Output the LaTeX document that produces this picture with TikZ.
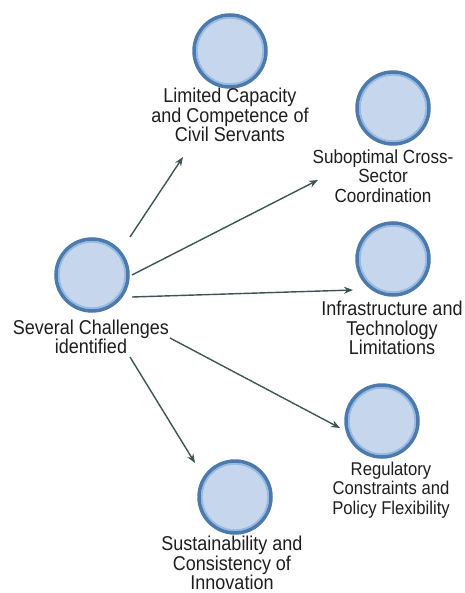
\documentclass[tikz,border=0pt]{standalone}
\usepackage{fontspec}
\setmainfont{Liberation Sans}[FakeStretch=0.9]
\usetikzlibrary{arrows.meta,calc}
\definecolor{nodefill}{RGB}{198,214,236}
\definecolor{nodeedge}{RGB}{76,122,172}
\definecolor{nodeinner}{RGB}{150,186,228}
\definecolor{arrowcol}{RGB}{62,84,84}
\definecolor{txtcol}{RGB}{30,30,30}
\begin{document}
\begin{tikzpicture}[x=1pt,y=-1pt,
  topic/.style={circle,fill=nodefill,draw=nodeedge,line width=3.5pt,minimum size=72pt,inner sep=0pt,
    path picture={\draw[nodeinner,line width=1.8pt] (path picture bounding box.center) circle (33.2pt);}},
  lbl/.style={align=center,text=txtcol,font=\fontsize{20}{19.3}\selectfont,inner sep=0pt},
  lblsmall/.style={lbl,font=\fontsize{18.5}{19.5}\selectfont},
  lblmid/.style={lbl,font=\fontsize{19}{19.3}\selectfont},
  arr/.style={draw=arrowcol,line width=1.4pt,-{Stealth[length=9pt,width=7pt]}}]
\useasboundingbox[fill=white] (0,0) rectangle (464,593);

% circles
\node[topic] (S) at (92,275) {};
\node[topic] (L) at (230,51) {};
\node[topic] (U) at (393,108) {};
\node[topic] (I) at (393,259) {};
\node[topic] (R) at (382,421) {};
\node[topic] (Y) at (235,497) {};

% labels
\node[lbl] (SL) at (91,337) {Several Challenges\\identified};
\node[lbl] (LL) at (230,115) {Limited Capacity\\and Competence of\\Civil Servants};
\node[lblmid] (UL) at (383,176) {Suboptimal Cross-\\Sector\\Coordination};
\node[lbl] (IL) at (392,328) {Infrastructure and\\Technology\\Limitations};
\node[lblsmall] (RL) at (391,490) {Regulatory\\Constraints and\\Policy Flexibility};
\node[lbl] (YL) at (232,563) {Sustainability and\\Consistency of\\Innovation};

% connectors
\draw[arr] ($(S)+(38,-38)$) -- ($(L)+(-47,106)$);
\draw[arr] ($(S)+(40,0)$) -- ($(U)+(-75,72)$);
\draw[arr] ($(S)+(40,22)$) -- ($(I)+(-40,31)$);
\draw[arr] ($(S)+(78,63)$) -- ($(R)+(-42,7)$);
\draw[arr] ($(S)+(38,82)$) -- ($(Y)+(-40,-34)$);
\end{tikzpicture}
\end{document}
